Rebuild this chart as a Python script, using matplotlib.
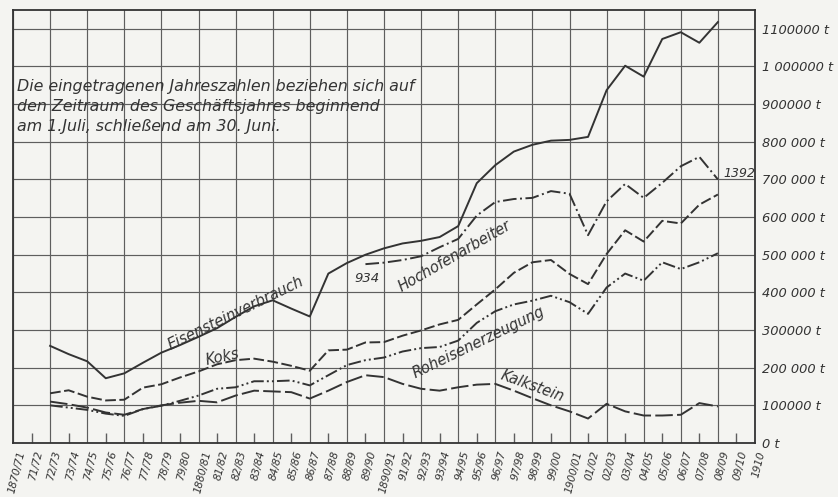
import matplotlib
matplotlib.use("Agg")
import matplotlib.pyplot as plt
from matplotlib.transforms import ScaledTranslation
import numpy as np

# Business years (1 July - 30 June) along the x axis
year_labels = [
    "1870/71", "71/72", "72/73", "73/74", "74/75", "75/76", "76/77", "77/78", "78/79", "79/80",
    "1880/81", "81/82", "82/83", "83/84", "84/85", "85/86", "86/87", "87/88", "88/89", "89/90",
    "1890/91", "91/92", "92/93", "93/94", "94/95", "95/96", "96/97", "97/98", "98/99", "99/00",
    "1900/01", "01/02", "02/03", "03/04", "04/05", "05/06", "06/07", "07/08", "08/09", "09/10",
    "1910",
]

# Series from 72/73 to 08/09 (tonnes per business year)
eisensteinverbrauch = [
    258000, 236000, 217000, 172000, 185000, 213000, 240000, 260000, 282000, 305000,
    335000, 363000, 379000, 357000, 336000, 450000, 478000, 500000, 517000, 530000,
    537000, 547000, 576000, 690000, 738000, 774000, 792000, 803000, 805000, 813000,
    937000, 1002000, 973000, 1073000, 1091000, 1063000, 1118000,
]
koks = [
    132000, 140000, 123000, 113000, 115000, 147000, 156000, 174000, 190000, 209000,
    220000, 224000, 216000, 205000, 192000, 246000, 248000, 267000, 268000, 285000,
    299000, 315000, 327000, 368000, 408000, 452000, 480000, 486000, 449000, 422000,
    502000, 565000, 535000, 590000, 583000, 633000, 660000,
]
roheisenerzeugung = [
    100000, 94000, 88000, 78000, 72000, 90000, 99000, 112000, 126000, 144000,
    148000, 164000, 164000, 166000, 153000, 180000, 207000, 220000, 227000, 243000,
    252000, 255000, 272000, 319000, 350000, 368000, 378000, 391000, 374000, 343000,
    413000, 450000, 431000, 480000, 462000, 480000, 504000,
]
kalkstein = [
    110000, 103000, 94000, 81000, 75000, 90000, 100000, 107000, 112000, 108000,
    126000, 139000, 137000, 135000, 118000, 139000, 162000, 180000, 175000, 157000,
    144000, 139000, 148000, 155000, 157000, 139000, 119000, 100000, 84000, 65000,
    104000, 84000, 73000, 73000, 75000, 106000, 97000,
]
# Blast-furnace workers (934 in 88/89 ... 1392 in 08/09), drawn on the tonnage scale
hochofenarbeiter = [
    475000, 479000, 486000, 496000, 520000, 542000, 604000, 640000, 648000, 651000,
    669000, 662000, 552000, 642000, 688000, 651000, 691000, 735000, 760000, 700000,
]
arbeiter_start, arbeiter_end = "934", "1392"

y_ticks = list(range(0, 1100001, 100000))
y_labels = ["0 t", "100000 t", "200 000 t", "300000 t", "400 000 t", "500 000 t",
            "600 000 t", "700 000 t", "800 000 t", "900000 t", "1 000000 t", "1100000 t"]

note = ("Die eingetragenen Jahreszahlen beziehen sich auf\n"
        "den Zeitraum des Geschäftsjahres beginnend\n"
        "am 1.Juli, schließend am 30. Juni.")

paper = "#f4f4f1"
ink = "#333333"
grid_ink = "#5e5e5e"

plt.rcParams["font.family"] = ["DejaVu Sans"]
plt.rcParams["font.style"] = "italic"

fig = plt.figure(figsize=(8.38, 4.97), dpi=100, facecolor=paper)
ax = fig.add_axes([13 / 838, 1 - 443 / 497, (755 - 13) / 838, (443 - 10) / 497])
ax.set_facecolor(paper)

n = len(year_labels)
pos = np.arange(n)
x_main = pos[2:2 + len(eisensteinverbrauch)]
x_arb = pos[39 - len(hochofenarbeiter):39]

ax.set_xlim(0, n - 1)
ax.set_ylim(0, 1150000)

# grid: every second year a full line, the others a short inner tick
major = pos[::2]
minor = pos[1::2]
ax.set_xticks(major, [year_labels[i] for i in major])
ax.set_xticks(minor, [year_labels[i] for i in minor], minor=True)
ax.tick_params(axis="x", which="major", length=0, pad=5)
ax.tick_params(axis="x", which="minor", direction="in", length=7, width=1.0,
               color=grid_ink, pad=5)
shift = ScaledTranslation(4 / 100, 0, fig.dpi_scale_trans)
for lab in ax.get_xticklabels(which="both"):
    lab.set_rotation(76)
    lab.set_ha("center")
    lab.set_va("top")
    lab.set_fontsize(7.6)
    lab.set_color(ink)
    lab.set_transform(lab.get_transform() + shift)

ax.set_yticks(y_ticks, y_labels)
ax.yaxis.tick_right()
ax.tick_params(axis="y", length=0, pad=5, labelsize=9.4, labelcolor=ink)

ax.grid(True, which="major", color=grid_ink, lw=0.85)
for sp in ax.spines.values():
    sp.set_color(ink)
    sp.set_linewidth(1.3)

lw = 1.4
ax.plot(x_main, eisensteinverbrauch, color=ink, lw=lw)
ax.plot(x_arb, hochofenarbeiter, color=ink, lw=lw, ls=(0, (7, 1.8, 1, 1.8)))
ax.plot(x_main, koks, color=ink, lw=lw, ls=(0, (5.5, 1.8)))
ax.plot(x_main, roheisenerzeugung, color=ink, lw=lw, ls=(0, (6.5, 1.6, 1, 1.6, 1, 1.6)))
ax.plot(x_main, kalkstein, color=ink, lw=lw, ls=(0, (9, 2.2)))

txt = dict(color=ink, fontsize=10.5, ha="center", va="center")
ax.text(12.0, 345000, "Eisensteinverbrauch", rotation=26, **txt)
ax.text(11.3, 228000, "Koks", rotation=12, **txt)
ax.text(19.1, 437000, arbeiter_start, rotation=0, color=ink, fontsize=9.5,
        ha="center", va="center")
ax.text(23.8, 495000, "Hochofenarbeiter", rotation=30, **txt)
ax.text(25.1, 267000, "Roheisenerzeugung", rotation=26, **txt)
ax.text(28.0, 151000, "Kalkstein", rotation=-20, **txt)
ax.text(38.3, 717000, arbeiter_end, color=ink, fontsize=9, ha="left", va="center")

ax.text(0.22, 968000, note, color=ink, fontsize=11.4, ha="left", va="top",
        linespacing=1.45)

fig.savefig("out.png", dpi=100, facecolor=paper)
